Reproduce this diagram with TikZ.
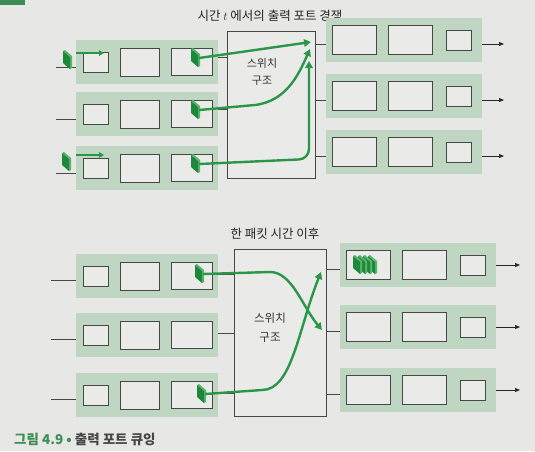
\documentclass[tikz,border=0pt]{standalone}
\usepackage{fontspec}
\setmainfont{Noto Sans CJK KR}
\usepackage{tikz}
\usetikzlibrary{arrows.meta}
\definecolor{bggray}{RGB}{231,232,229}
\definecolor{bandgreen}{RGB}{191,214,195}
\definecolor{boxfill}{RGB}{234,235,233}
\definecolor{boxline}{RGB}{70,72,70}
\definecolor{flowgreen}{RGB}{42,150,72}
\definecolor{pkdark}{RGB}{30,135,60}
\definecolor{pklight}{RGB}{90,180,110}
\definecolor{capgreen}{RGB}{60,140,85}
\definecolor{captext}{RGB}{70,72,72}

\tikzset{
  inband/.style={fill=bandgreen, minimum width=142pt, minimum height=44pt, inner sep=0pt},
  outband/.style={fill=bandgreen, minimum width=156pt, minimum height=44pt, inner sep=0pt},
  qbox/.style={draw=boxline, fill=boxfill, line width=0.8pt, inner sep=0pt},
  qsmall/.style={qbox, minimum width=25pt, minimum height=20pt},
  qmid/.style={qbox, minimum width=39pt, minimum height=28pt},
  qlarge/.style={qbox, minimum width=41pt, minimum height=27pt},
  qbig/.style={qbox, minimum width=44pt, minimum height=29pt},
  switch/.style={draw=boxline, fill=boxfill, line width=0.7pt, inner sep=0pt},
  wire/.style={draw=boxline, line width=0.7pt},
  outarrow/.style={draw=black!85, line width=0.7pt, -{Triangle[length=5pt,width=4pt]}},
  flow/.style={draw=flowgreen, line width=2.4pt, -{Triangle[length=7pt,width=7.5pt]}},
  flowsmall/.style={draw=flowgreen, line width=1.8pt, -{Triangle[length=5pt,width=5.5pt]}},
  headtext/.style={font=\fontsize{12.5}{14}\selectfont, text=black!85},
  swtext/.style={font=\fontsize{11}{17}\selectfont, align=center, text=black!80},
  packet/.pic={
    \fill[pklight] (-4,-9) -- (-2,-10) -- (5,-4) -- (5,8) -- (3,9) -- (3,-3) -- cycle;
    \fill[pkdark] (-4,-9) -- (3,-3) -- (3,9) -- (-4,3) -- cycle;
    \coordinate (-e) at (4,0);
  }
}

\begin{document}
\begin{tikzpicture}[x=1pt,y=-1pt]
    % 배경
    \fill[bggray] (0,0) rectangle (535,451);
    \useasboundingbox (0,0) rectangle (535,451);
    \fill[capgreen] (0,0) rectangle (25,5);

    % 시간 t
    \node[headtext] (a-title) at (270,16) {시간 $t$ 에서의 출력 포트 경쟁};
    \node[switch, minimum width=88pt, minimum height=147pt] (a-sw) at (271,104.5) {};
    \node[swtext] (a-swt) at (262,72) {스위치\\구조};
    \foreach \i/\y in {1/62,2/114,3/168} {
        \node[inband] (a-in\i) at (147,\y) {};
        \node[qsmall] (a-in\i-s) at (96,\y) {};
        \node[qmid] (a-in\i-m) at (140,\y) {};
        \node[qlarge] (a-in\i-l) at (192,\y) {};
        \coordinate (a-l\i) at (56,\y+5);
        \draw[wire] (a-l\i) -- (a-l\i -| a-in\i.west);
        \draw[wire] ([yshift=5pt]a-in\i.east) -- ([yshift=5pt]a-in\i.east -| a-sw.west);
    }
    \foreach \i/\y in {1/40,2/96,3/152} {
        \node[outband] (a-out\i) at (404,\y) {};
        \node[qbig] (a-out\i-a) at (354,\y) {};
        \node[qbig] (a-out\i-b) at (410,\y) {};
        \node[qsmall] (a-out\i-c) at (459,\y) {};
        \draw[wire] ([yshift=-4pt]a-out\i.west) -- ([yshift=-4pt]a-out\i.west -| a-sw.east);
        \coordinate (a-o\i) at (504,\y+4);
        \draw[outarrow] (a-o\i -| a-out\i.east) -- (a-o\i);
    }
    % 패킷
    \foreach \i/\y in {1/58,2/110,3/164}
        \pic (a-pk\i) at (195,\y) {packet};
    \pic (a-pk4) at (67,60) {packet};
    \pic (a-pk5) at (66,162) {packet};
    \coordinate (a-m1) at (76,53);
    \coordinate (a-m2) at (104,53);
    \coordinate (a-m3) at (76,155);
    \coordinate (a-m4) at (104,155);
    \draw[flowsmall] (a-m1) -- (a-m2);
    \draw[flowsmall] (a-m3) -- (a-m4);
    \coordinate (a-t1) at (311,42);
    \coordinate (a-t2) at (310,49);
    \coordinate (a-t3) at (309,61);
    \draw[flow] (a-pk1-e) -- (a-t1);
    \draw[flow] (a-pk2-e) -- (255,105) .. controls (286,101) and (298,76) .. (a-t2);
    \draw[flow, rounded corners=10pt] (a-pk3-e) -- (309,159) -- (a-t3);

    % 한 패킷 시간 이후
    \node[headtext] (b-title) at (275,234) {한 패킷 시간 이후};
    \node[switch, minimum width=92pt, minimum height=167pt] (b-sw) at (280,332.5) {};
    \node[swtext, font=\fontsize{11.5}{19}\selectfont] (b-swt) at (270,328) {스위치\\구조};
    \foreach \i/\y in {1/276,2/335,3/395} {
        \node[inband] (b-in\i) at (147,\y) {};
        \node[qsmall] (b-in\i-s) at (96,\y) {};
        \node[qmid] (b-in\i-m) at (140,\y) {};
        \node[qlarge] (b-in\i-l) at (192,\y) {};
        \coordinate (b-l\i) at (51,\y+4);
        \draw[wire] (b-l\i) -- (b-l\i -| b-in\i.west);
        \draw[wire] ([yshift=2pt]b-in\i.east) -- ([yshift=2pt]b-in\i.east -| b-sw.west);
    }
    \foreach \i/\y in {1/265,2/327,3/390} {
        \node[outband] (b-out\i) at (418,\y) {};
        \node[qbig] (b-out\i-a) at (368,\y) {};
        \node[qbig] (b-out\i-b) at (424,\y) {};
        \node[qsmall] (b-out\i-c) at (473,\y) {};
        \draw[wire] ([yshift=-4pt]b-out\i.west) -- ([yshift=-4pt]b-out\i.west -| b-sw.east);
        \coordinate (b-o\i) at (520,\y);
        \draw[outarrow] (b-o\i -| b-out\i.east) -- (b-o\i);
    }
    % 패킷
    \pic (b-pk1) at (199,274) {packet};
    \pic (b-pk3) at (201,394) {packet};
    \foreach \k in {372,367,362,357}
        \pic at (\k,265) {packet};
    \coordinate (b-t1) at (322,330);
    \coordinate (b-t2) at (321,272);
    \draw[flow] (b-pk1-e) -- (270,272) .. controls (292,272) and (302,306) .. (b-t1);
    \draw[flow] (b-pk3-e) -- (262,390) .. controls (292,390) and (298,330) .. (b-t2);

    % 그림 제목
    \node[anchor=west, inner sep=0pt, font=\fontsize{13.5}{15}\selectfont\bfseries] (cap) at (14,439)
        {\textcolor{capgreen}{그림 4.9 •} \textcolor{captext}{출력 포트 큐잉}};
\end{tikzpicture}
\end{document}
